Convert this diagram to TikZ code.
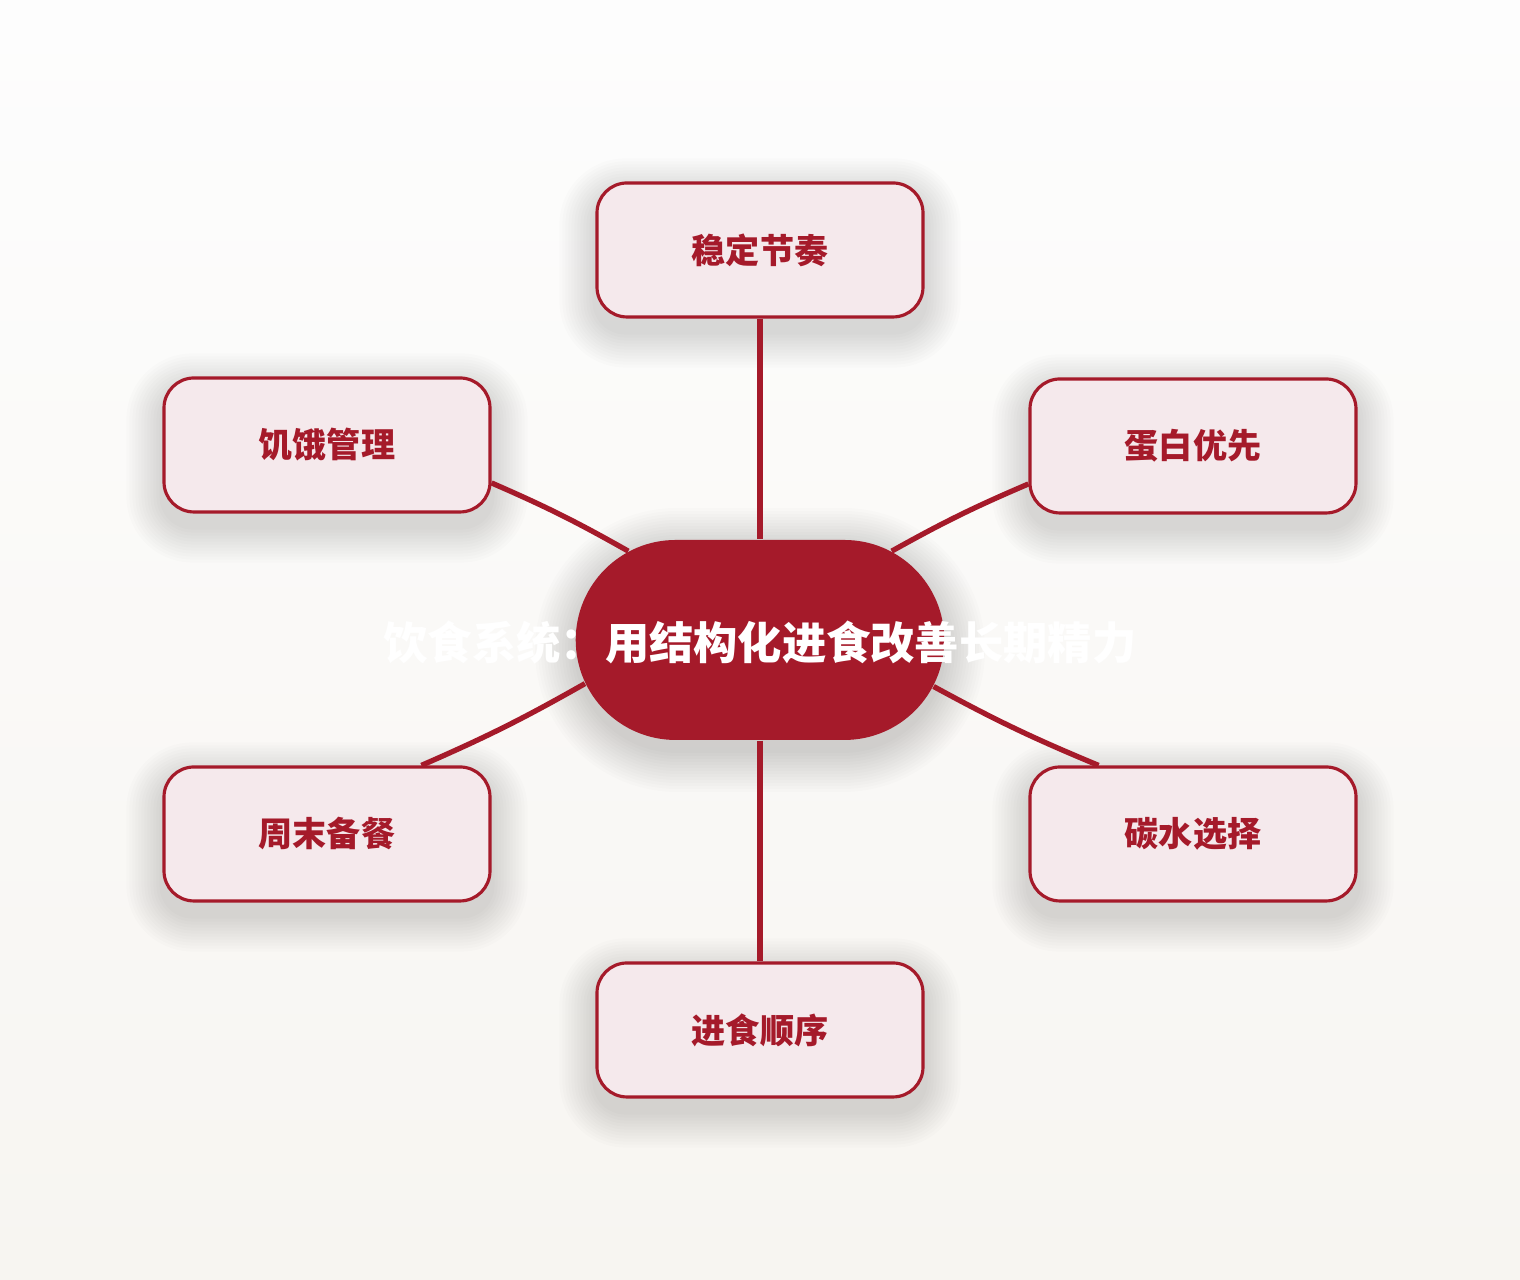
\documentclass[tikz,border=0pt]{standalone}
\usepackage{fontspec}
\setmainfont{Noto Sans CJK SC}
\usetikzlibrary{shapes.misc,backgrounds}
\definecolor{wine}{HTML}{A51A2A}
\definecolor{blush}{HTML}{F5E9EC}
\definecolor{paper}{HTML}{FDFDFD}
\definecolor{sand}{HTML}{F7F5F1}

\begin{document}
\begin{tikzpicture}[
  leaf/.style={draw=wine, line width=0.9pt, fill=blush, rounded corners=0.3cm,
    minimum width=3.26cm, minimum height=1.34cm, text=wine,
    font=\bfseries\fontsize{9.7}{11}\selectfont},
  haze/.style={black, opacity=0.01},
  link/.style={wine, line width=1.5pt}]
% centre
\node [rounded rectangle, fill=wine, minimum width=3.92cm, minimum height=2cm] (core) at (7.6,6.4) {};
\node [text=white, font=\bfseries\fontsize{12.6}{15}\selectfont] (title) at (7.6,6.37) {饮食系统：用结构化进食改善长期精力};

% branches
\node [leaf] (rhythm) at (7.6,10.3) {稳定节奏};
\node [leaf] (hunger) at (3.27,8.35) {饥饿管理};
\node [leaf] (protein) at (11.93,8.34) {蛋白优先};
\node [leaf] (weekend) at (3.27,4.46) {周末备餐};
\node [leaf] (carb) at (11.93,4.46) {碳水选择};
\node [leaf] (order) at (7.6,2.5) {进食顺序};

% background and soft shadows
\begin{scope}[on background layer]
\shade [top color=paper, bottom color=sand] (0,0) rectangle (15.2,12.8);
\foreach \n in {rhythm,hunger,protein,weekend,carb,order}
  \foreach \r in {1,...,12}
    \fill [haze, rounded corners=3mm+\r*0.3mm]
      ([shift={(-\r*0.03,-\r*0.03-0.13)}]\n.south west) rectangle ([shift={(\r*0.03,\r*0.03-0.13)}]\n.north east);
\foreach \r in {1,...,14}
  \fill [haze, opacity=0.013, rounded corners=10mm+\r*0.3mm]
    ([shift={(-1.83-\r*0.03,-1-\r*0.03-0.1)}]core.center) rectangle ([shift={(1.83+\r*0.03,1+\r*0.03-0.1)}]core.center);
\end{scope}

% links
\draw [link] (rhythm.south) -- (core.north);
\draw [link] (core.south) -- (order.north);
\draw [link] (hunger.-13) to[bend left=3] (core.146);
\draw [link] (protein.-167) to[bend right=3] (core.34);
\draw [link] (weekend.36) to[bend right=3] (core.-166);
\draw [link] (carb.144) to[bend left=3] (core.-15);
\end{tikzpicture}
\end{document}
